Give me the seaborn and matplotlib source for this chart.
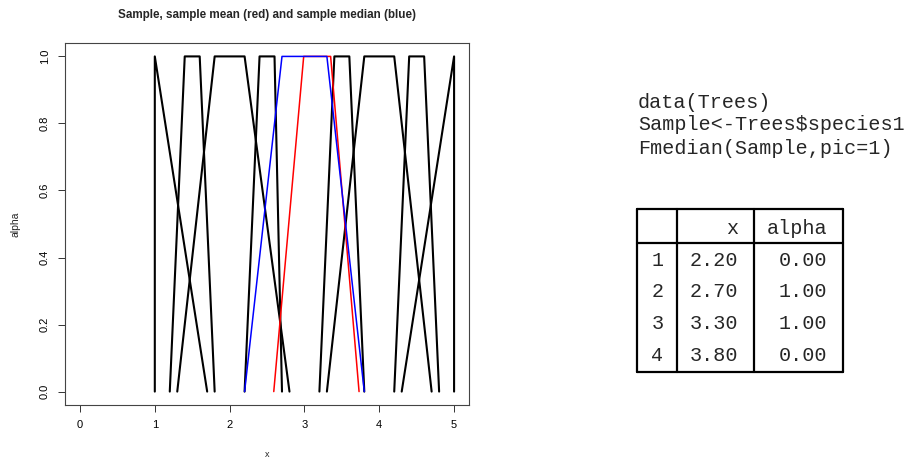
import pandas as pd
import matplotlib
matplotlib.use("Agg")
import matplotlib.pyplot as plt
import seaborn as sns

# trapezoidal fuzzy numbers of the sample: (left foot, left peak, right peak, right foot)
sample = [
    (1.0, 1.0, 1.0, 1.7),
    (1.2, 1.4, 1.6, 1.8),
    (1.3, 1.8, 2.2, 2.8),
    (2.2, 2.4, 2.6, 2.7),
    (3.2, 3.4, 3.6, 3.8),
    (3.3, 3.8, 4.2, 4.7),
    (4.2, 4.4, 4.6, 4.8),
    (4.3, 5.0, 5.0, 5.0),
]
alpha_levels = [0.0, 1.0, 1.0, 0.0]
mean_x = [2.59, 2.99, 3.35, 3.73]
median_x = [2.2, 2.7, 3.3, 3.8]

code_lines = ["data(Trees)", "Sample<-Trees$species1", "Fmedian(Sample,pic=1)"]
table_header = ["", "x", "alpha"]
table_rows = ["1", "2", "3", "4"]
table_x = ["2.20", "2.70", "3.30", "3.80"]
table_alpha = ["0.00", "1.00", "1.00", "0.00"]

rows = []
for i, t in enumerate(sample):
    for xv, av in zip(t, alpha_levels):
        rows.append({"id": i, "x": xv, "alpha": av})
df = pd.DataFrame(rows)
df_mean = pd.DataFrame({"x": mean_x, "alpha": alpha_levels})
df_median = pd.DataFrame({"x": median_x, "alpha": alpha_levels})

sns.set_style("white")
plt.rcParams["font.family"] = ["Liberation Sans", "DejaVu Sans"]

fig = plt.figure(figsize=(9.12, 4.57), dpi=100)
ax = fig.add_axes([0.0713, 0.1138, 0.443, 0.7921])

sns.lineplot(data=df, x="x", y="alpha", units="id", estimator=None, sort=False,
             color="black", linewidth=1.5, ax=ax)
sns.lineplot(data=df_mean, x="x", y="alpha", estimator=None, sort=False,
             color="red", linewidth=1.1, ax=ax)
sns.lineplot(data=df_median, x="x", y="alpha", estimator=None, sort=False,
             color="blue", linewidth=1.1, ax=ax)

ax.set_xlim(-0.2, 5.2)
ax.set_ylim(-0.04, 1.04)
ax.set_xticks([0, 1, 2, 3, 4, 5])
ax.set_yticks([0.0, 0.2, 0.4, 0.6, 0.8, 1.0])
ax.set_yticklabels(["0.0", "0.2", "0.4", "0.6", "0.8", "1.0"], rotation=90, va="center")
ax.tick_params(direction="out", length=5, width=0.7, labelsize=8, pad=6,
               bottom=True, left=True, colors="#333333", labelcolor="black")
for s in ax.spines.values():
    s.set_color("#444444")
    s.set_linewidth(0.8)
ax.set_xlabel("x", fontsize=6.5, labelpad=14)
ax.set_ylabel("alpha", fontsize=7.5, labelpad=14)
ax.set_title("Sample, sample mean (red) and sample median (blue)",
             fontsize=8.4, fontweight="bold", pad=18)

# code text on the right
mono = "Liberation Mono"
for k, line in enumerate(code_lines):
    fig.text(638 / 912, 1 - (102 + 23 * k) / 457, line, family=mono,
             fontsize=14.5, va="center", ha="left")

# table
W, H = 912, 457
def hline(y, x0, x1, lw=1.6):
    fig.add_artist(plt.Line2D([x0 / W, x1 / W], [1 - y / H, 1 - y / H],
                              color="black", linewidth=lw))
def vline(x, y0, y1, lw=1.6):
    fig.add_artist(plt.Line2D([x / W, x / W], [1 - y0 / H, 1 - y1 / H],
                              color="black", linewidth=lw))

left, right, top, bottom = 637.5, 843.5, 209.5, 371.5
hline(top, left, right)
hline(bottom, left, right)
hline(242.5, left, right)
vline(left, top, bottom)
vline(right, top, bottom)
vline(677.5, top, bottom)
vline(754, top, bottom)

fig.text(738 / W, 1 - 228 / H, table_header[1], family=mono, fontsize=14.5,
         ha="right", va="center")
fig.text(827 / W, 1 - 228 / H, table_header[2], family=mono, fontsize=14.5,
         ha="right", va="center")
for k in range(len(table_rows)):
    yy = 1 - (260 + 31.7 * k) / H
    fig.text(657.5 / W, yy, table_rows[k], family=mono, fontsize=14.5, ha="center", va="center")
    fig.text(738 / W, yy, table_x[k], family=mono, fontsize=14.5, ha="right", va="center")
    fig.text(827 / W, yy, table_alpha[k], family=mono, fontsize=14.5, ha="right", va="center")

fig.savefig("out.png", dpi=100)
